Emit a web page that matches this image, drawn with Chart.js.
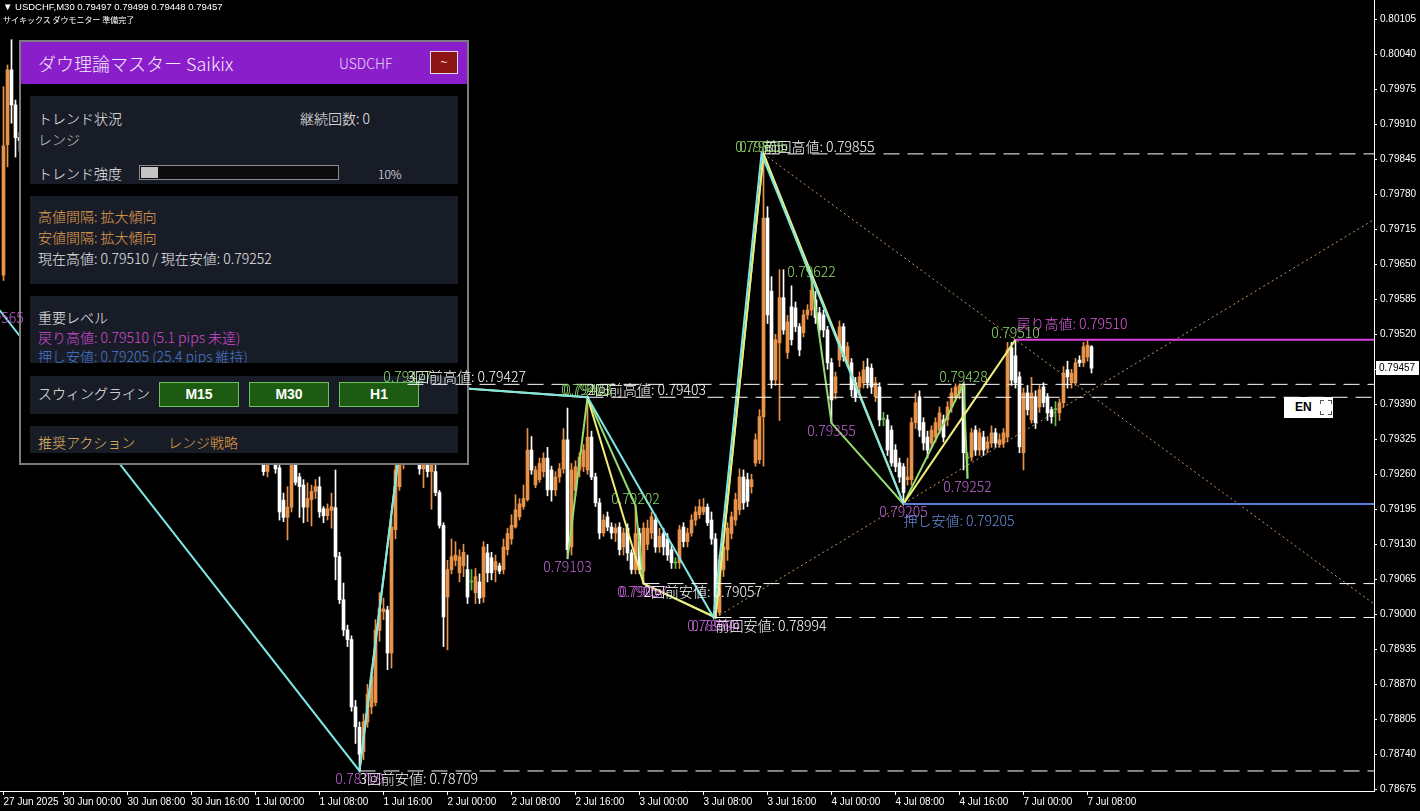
<!DOCTYPE html>
<html lang="ja">
<head>
<meta charset="utf-8">
<title>USDCHF,M30</title>
<script src="https://cdn.jsdelivr.net/npm/chart.js@4.4.1/dist/chart.umd.min.js"></script>
<style>
  html, body { margin: 0; padding: 0; background: #000; overflow: hidden; }
  #wrap { position: relative; width: 1420px; height: 811px; background: #000; }
  #wrap canvas { position: absolute; left: 0; top: 0; }
  #base { z-index: 1; }
  #over { z-index: 3; pointer-events: none; }
  .hdr { position: absolute; left: 3px; z-index: 4; color: #fff; white-space: nowrap; }
  #hdr1 { top: 0; font: 9.5px "Liberation Sans", Arial, sans-serif; line-height: 13px; }
  #hdr2 { top: 14px; font: 8px "Noto Sans CJK JP", sans-serif; line-height: 12px; }
  .panel { position: absolute; left: 19px; top: 40px; width: 450px; height: 425px; box-sizing: border-box;
           border: 2px solid #7c7c7c; background: #000; z-index: 2;
           font-family: "Noto Sans CJK JP", sans-serif; font-weight: 300; font-size: 14px; color: #f0f0f0; }
  .panel div { position: absolute; white-space: nowrap; }
  .ttl { left: 0; top: 0; width: 446px; height: 42px; background: #8B1ECB; }
  .box { left: 9px; width: 428px; background: #181C27; overflow: hidden; }
  .t { height: 20px; line-height: 20px; }
  .org { color: #E6A050; }
  .btn { top: 6px; width: 80px; height: 25px; box-sizing: border-box; background: #1E5B12; border: 1px solid #6DC15B;
         color: #fff; font: bold 14px "Liberation Sans", Arial, sans-serif; line-height: 23px; text-align: center; }
  #en { position: absolute; left: 1284px; top: 397px; width: 49px; height: 21px; background: #fff; z-index: 4; }
  #en span { position: absolute; left: 11px; top: 0; font: bold 12px "Liberation Sans", Arial, sans-serif; line-height: 21px; color: #000; }
  #en i { position: absolute; width: 3px; height: 3px; border-color: #555; border-style: solid; border-width: 0; }
</style>
</head>
<body>
<div id="wrap">
  <canvas id="base" width="1420" height="811"></canvas>

  <div class="panel">
    <div class="ttl">
      <div style="left:17px;top:9px;font-size:18px;line-height:24px;color:#f4eefa;">ダウ理論マスター Saikix</div>
      <div class="t" style="left:318px;top:11px;color:#e6d8f4;">USDCHF</div>
      <div style="left:409px;top:9px;width:28px;height:23px;box-sizing:border-box;background:#8E1515;border:1px solid #e0e0e0;color:#fff;text-align:center;line-height:19px;font-size:14px;">~</div>
    </div>
    <div class="box" style="top:54px;height:88px;">
      <div class="t" style="left:8px;top:12px;">トレンド状況</div>
      <div class="t" style="left:270px;top:12px;">継続回数: 0</div>
      <div class="t" style="left:8px;top:33px;color:#c8c8c8;">レンジ</div>
      <div class="t" style="left:8px;top:67px;">トレンド強度</div>
      <div style="left:109px;top:69px;width:200px;height:15px;box-sizing:border-box;border:1px solid #8c8c8c;background:#0c0c0c;">
        <div style="left:1px;top:1px;width:17px;height:11px;background:#c4c4c4;"></div>
      </div>
      <div class="t" style="left:348px;top:68px;font-size:12px;">10%</div>
    </div>
    <div class="box" style="top:154px;height:88px;">
      <div class="t org" style="left:8px;top:10px;">高値間隔: 拡大傾向</div>
      <div class="t org" style="left:8px;top:31px;">安値間隔: 拡大傾向</div>
      <div class="t" style="left:8px;top:52px;color:#e8e8e8;">現在高値: 0.79510 / 現在安値: 0.79252</div>
    </div>
    <div class="box" style="top:254px;height:67px;">
      <div class="t" style="left:8px;top:11px;">重要レベル</div>
      <div class="t" style="left:8px;top:31px;color:#D24BD2;">戻り高値: 0.79510 (5.1 pips 未達)</div>
      <div class="t" style="left:8px;top:50px;color:#4A7AD2;">押し安値: 0.79205 (25.4 pips 維持)</div>
    </div>
    <div class="box" style="top:334px;height:38px;">
      <div class="t" style="left:8px;top:7px;">スウィングライン</div>
      <div class="btn" style="left:129px;">M15</div>
      <div class="btn" style="left:219px;">M30</div>
      <div class="btn" style="left:309px;">H1</div>
    </div>
    <div class="box" style="top:384px;height:27px;">
      <div class="t" style="left:8px;top:6px;color:#EBBE64;">推奨アクション</div>
      <div class="t" style="left:138px;top:6px;color:#E1A046;">レンジ戦略</div>
    </div>
  </div>

  <canvas id="over" width="1420" height="811"></canvas>

  <div class="hdr" id="hdr1"></div>
  <div class="hdr" id="hdr2">サイキックス ダウモニター 準備完了</div>

  <div id="en"><span>EN</span>
    <i style="left:36px;top:3px;border-left-width:1px;border-top-width:1px;"></i>
    <i style="left:44px;top:3px;border-right-width:1px;border-top-width:1px;"></i>
    <i style="left:36px;top:14px;border-left-width:1px;border-bottom-width:1px;"></i>
    <i style="left:44px;top:14px;border-right-width:1px;border-bottom-width:1px;"></i>
  </div>
</div>

<script>
// prices in points (1 point = 0.00001), one entry per M30 bar, 27 Jun 16:30 .. 7 Jul 08:30
const PT = 1e-5;

const openPts = [
  79630, 79872, 80011, 79946, 79885, 79880, 79850, 79870, 79820, 79790,
  79810, 79760, 79740, 79765, 79720, 79700, 79720, 79690, 79650, 79670,
  79640, 79600, 79620, 79590, 79610, 79580, 79550, 79570, 79540, 79520,
  79545, 79510, 79490, 79505, 79470, 79480, 79450, 79430, 79455, 79420,
  79440, 79410, 79390, 79415, 79380, 79400, 79370, 79390, 79360, 79340,
  79365, 79350, 79330, 79355, 79340, 79320, 79345, 79330, 79310, 79335,
  79320, 79300, 79325, 79310, 79295, 79290, 79265, 79300, 79285, 79272,
  79212, 79180, 79199, 79285, 79255, 79240, 79199, 79213, 79228, 79237,
  79196, 79183, 79193, 79198, 79107, 79027, 78971, 78953, 78828, 78790,
  78745, 78800, 78828, 78836, 78970, 79005, 79008, 78928, 79157, 79237,
  79280, 79310, 79400, 79350, 79330, 79270, 79278, 79265, 79265, 79226,
  79165, 79032, 79083, 79100, 79077, 79090, 79083, 79060, 79040, 79060,
  79032, 79114, 79105, 79083, 79090, 79083, 79120, 79140, 79162, 79181,
  79200, 79213, 79305, 79240, 79250, 79265, 79290, 79268, 79231, 79255,
  79270, 79324, 79125, 79230, 79268, 79274, 79268, 79329, 79255, 79207,
  79151, 79181, 79162, 79151, 79162, 79125, 79160, 79114, 79083, 79150,
  79080, 79130, 79151, 79175, 79125, 79150, 79140, 79120, 79095, 79096,
  79162, 79135, 79151, 79175, 79185, 79190, 79199, 79175, 79140, 79003,
  79083, 79120, 79150, 79175, 79194, 79255, 79250, 79237, 79281, 79287,
  79367, 79736, 79600, 79435, 79504, 79588, 79486, 79571, 79569, 79534,
  79523, 79556, 79565, 79584, 79560, 79556, 79528, 79467, 79411, 79472,
  79534, 79467, 79467, 79430, 79422, 79430, 79459, 79457, 79404, 79422,
  79362, 79361, 79342, 79305, 79281, 79274, 79250, 79250, 79356, 79404,
  79356, 79329, 79318, 79329, 79342, 79361, 79361, 79385, 79404, 79411,
  79425, 79290, 79292, 79342, 79305, 79329, 79308, 79318, 79337, 79315,
  79318, 79329, 79495, 79480, 79441, 79300, 79411, 79361, 79404, 79385,
  79422, 79404, 79380, 79380, 79374, 79393, 79454, 79430, 79430, 79472,
  79467, 79478, 79497
];
const highPts = [
  79980, 80020, 80067, 79955, 79895, 79888, 79878, 79875, 79828, 79818,
  79815, 79768, 79773, 79770, 79728, 79728, 79725, 79697, 79678, 79675,
  79648, 79628, 79625, 79618, 79615, 79588, 79578, 79575, 79548, 79553,
  79550, 79518, 79513, 79510, 79488, 79485, 79458, 79463, 79460, 79448,
  79445, 79418, 79423, 79420, 79408, 79405, 79398, 79395, 79368, 79373,
  79370, 79358, 79363, 79360, 79348, 79353, 79350, 79338, 79343, 79340,
  79328, 79333, 79330, 79318, 79308, 79300, 79300, 79310, 79295, 79285,
  79225, 79237, 79295, 79300, 79262, 79250, 79244, 79240, 79250, 79255,
  79200, 79205, 79225, 79268, 79115, 79058, 78980, 78960, 78840, 78800,
  78815, 78870, 78900, 78990, 79040, 79030, 79015, 79180, 79278, 79320,
  79330, 79427, 79415, 79370, 79340, 79295, 79285, 79290, 79280, 79230,
  79170, 79100, 79140, 79135, 79120, 79130, 79110, 79083, 79085, 79075,
  79135, 79130, 79115, 79110, 79095, 79140, 79160, 79185, 79222, 79215,
  79240, 79345, 79330, 79275, 79290, 79300, 79310, 79275, 79265, 79280,
  79345, 79383, 79280, 79285, 79300, 79315, 79403, 79340, 79262, 79215,
  79185, 79190, 79170, 79168, 79170, 79160, 79168, 79120, 79202, 79160,
  79170, 79175, 79190, 79185, 79160, 79160, 79150, 79130, 79105, 79165,
  79170, 79160, 79185, 79200, 79213, 79215, 79205, 79190, 79150, 79110,
  79140, 79170, 79190, 79225, 79270, 79268, 79262, 79260, 79335, 79380,
  79857, 79757, 79627, 79520, 79640, 79640, 79555, 79610, 79580, 79540,
  79565, 79575, 79622, 79600, 79570, 79565, 79535, 79475, 79450, 79545,
  79540, 79505, 79475, 79440, 79450, 79470, 79475, 79465, 79440, 79430,
  79375, 79370, 79350, 79315, 79290, 79280, 79290, 79365, 79410, 79415,
  79365, 79340, 79350, 79365, 79385, 79370, 79395, 79420, 79428, 79428,
  79428, 79300, 79345, 79350, 79345, 79340, 79330, 79350, 79345, 79335,
  79345, 79505, 79505, 79510, 79450, 79420, 79425, 79440, 79415, 79425,
  79430, 79410, 79385, 79395, 79400, 79460, 79470, 79455, 79475, 79480,
  79505, 79510, 79499
];
const lowPts = [
  79620, 79831, 79912, 79849, 79860, 79840, 79842, 79812, 79782, 79784,
  79752, 79732, 79735, 79712, 79692, 79695, 79682, 79642, 79645, 79632,
  79592, 79595, 79582, 79585, 79572, 79542, 79545, 79532, 79512, 79515,
  79502, 79482, 79485, 79462, 79465, 79442, 79422, 79425, 79412, 79415,
  79402, 79382, 79385, 79372, 79375, 79362, 79365, 79352, 79332, 79335,
  79342, 79322, 79325, 79332, 79312, 79315, 79322, 79302, 79305, 79312,
  79292, 79295, 79302, 79290, 79288, 79258, 79255, 79280, 79262, 79175,
  79172, 79138, 79190, 79240, 79180, 79170, 79172, 79164, 79215, 79180,
  79170, 79175, 79160, 79064, 79020, 78960, 78940, 78820, 78760, 78709,
  78730, 78790, 78815, 78830, 78950, 78990, 78897, 78900, 79140, 79230,
  79270, 79290, 79340, 79300, 79260, 79235, 79255, 79195, 79220, 79160,
  78940, 78934, 79075, 79090, 79060, 79070, 79020, 79045, 79020, 79020,
  79022, 79060, 79064, 79060, 79075, 79075, 79110, 79130, 79160, 79175,
  79195, 79210, 79260, 79235, 79245, 79255, 79220, 79210, 79220, 79245,
  79262, 79103, 79110, 79220, 79255, 79265, 79260, 79250, 79200, 79140,
  79145, 79155, 79140, 79135, 79110, 79110, 79100, 79075, 79075, 79075,
  79057, 79120, 79140, 79115, 79115, 79110, 79100, 79085, 79085, 79085,
  79125, 79125, 79145, 79165, 79178, 79185, 79165, 79130, 78994, 78998,
  79070, 79100, 79140, 79165, 79185, 79195, 79200, 79225, 79275, 79280,
  79275, 79540, 79420, 79425, 79360, 79520, 79475, 79500, 79525, 79480,
  79515, 79548, 79555, 79540, 79520, 79515, 79455, 79355, 79400, 79460,
  79470, 79460, 79405, 79395, 79410, 79420, 79420, 79410, 79395, 79350,
  79350, 79295, 79275, 79265, 79245, 79205, 79240, 79240, 79345, 79330,
  79305, 79290, 79310, 79320, 79335, 79320, 79350, 79375, 79395, 79400,
  79268, 79252, 79285, 79295, 79295, 79295, 79300, 79310, 79310, 79310,
  79310, 79320, 79425, 79420, 79300, 79268, 79370, 79355, 79345, 79375,
  79385, 79360, 79355, 79350, 79360, 79385, 79420, 79420, 79425, 79460,
  79460, 79470, 79448
];
const closePts = [
  79870, 80011, 79946, 79885, 79880, 79850, 79870, 79820, 79790, 79810,
  79760, 79740, 79765, 79720, 79700, 79720, 79690, 79650, 79670, 79640,
  79600, 79620, 79590, 79610, 79580, 79550, 79570, 79540, 79520, 79545,
  79510, 79490, 79505, 79470, 79480, 79450, 79430, 79455, 79420, 79440,
  79410, 79390, 79415, 79380, 79400, 79370, 79390, 79360, 79340, 79365,
  79350, 79330, 79355, 79340, 79320, 79345, 79330, 79310, 79335, 79320,
  79300, 79325, 79310, 79295, 79300, 79265, 79285, 79285, 79270, 79190,
  79180, 79199, 79278, 79245, 79237, 79199, 79215, 79228, 79237, 79190,
  79183, 79196, 79200, 79107, 79027, 78971, 78953, 78828, 78791, 78740,
  78800, 78852, 78884, 78971, 79010, 79010, 78928, 79162, 79268, 79290,
  79310, 79400, 79350, 79330, 79270, 79285, 79265, 79280, 79226, 79165,
  78995, 79083, 79107, 79110, 79107, 79115, 79032, 79060, 79070, 79030,
  79125, 79077, 79077, 79098, 79080, 79125, 79150, 79165, 79194, 79205,
  79215, 79305, 79268, 79268, 79280, 79290, 79231, 79231, 79255, 79270,
  79324, 79120, 79268, 79274, 79292, 79305, 79329, 79255, 79207, 79151,
  79175, 79162, 79151, 79160, 79120, 79151, 79114, 79083, 79150, 79083,
  79160, 79160, 79181, 79125, 79145, 79125, 79110, 79096, 79095, 79157,
  79135, 79151, 79175, 79190, 79200, 79199, 79170, 79140, 79010, 79101,
  79125, 79160, 79181, 79213, 79255, 79207, 79210, 79250, 79324, 79367,
  79736, 79556, 79435, 79510, 79588, 79528, 79543, 79510, 79534, 79491,
  79556, 79565, 79602, 79551, 79528, 79528, 79467, 79398, 79441, 79534,
  79478, 79497, 79417, 79404, 79441, 79454, 79430, 79422, 79430, 79361,
  79362, 79305, 79281, 79274, 79255, 79226, 79255, 79356, 79393, 79342,
  79318, 79305, 79342, 79356, 79374, 79329, 79385, 79411, 79422, 79425,
  79300, 79290, 79337, 79305, 79337, 79305, 79320, 79337, 79318, 79324,
  79337, 79491, 79435, 79430, 79311, 79411, 79380, 79411, 79356, 79417,
  79393, 79374, 79367, 79380, 79393, 79448, 79441, 79448, 79467, 79467,
  79497, 79500, 79457
];

// time axis: bar index of each label
const xTickIdx = [0, 15, 31, 47, 63, 79, 95, 111, 127, 143, 159, 175, 191, 207, 223, 239, 255, 271];
const xTickLabels = ['27 Jun 2025', '30 Jun 00:00', '30 Jun 08:00', '30 Jun 16:00', '1 Jul 00:00', '1 Jul 08:00',
  '1 Jul 16:00', '2 Jul 00:00', '2 Jul 08:00', '2 Jul 16:00', '3 Jul 00:00', '3 Jul 08:00', '3 Jul 16:00',
  '4 Jul 00:00', '4 Jul 08:00', '4 Jul 16:00', '7 Jul 00:00', '7 Jul 08:00'];
const yTickPrices = [0.78675, 0.78740, 0.78805, 0.78870, 0.78935, 0.79000, 0.79065, 0.79130, 0.79195, 0.79260,
  0.79325, 0.79390, 0.79455, 0.79520, 0.79585, 0.79650, 0.79715, 0.79780, 0.79845, 0.79910, 0.79975,
  0.80040, 0.80105];
const priceTop = 0.801408, priceBottom = 0.786718;
const barFirst = -0.875, barLast = 342.625;

// swing lines per timeframe: [bar index, price pts]
const cyanSwing = [[-1, 79565], [89, 78709], [101, 79427], [146, 79403], [177.5, 78994], [189.5, 79855], [225, 79205]];
const yellowSwing = [[89, 78709], [101, 79427], [146, 79403], [160, 79057], [178, 78994], [190, 79855], [225, 79205], [253, 79510]];
const greenSwing = [[141, 79103], [146, 79403], [158, 79202], [160, 79057], [178, 78994], [190, 79855],
  [202, 79622], [207, 79355], [225, 79205], [240, 79428], [241, 79252]];
const highTrend = [[190, 79855], [253, 79510]];
const lowTrend = [[178, 78994], [225, 79205]];

// previous highs / lows
const levelNames = ['前回高値', '2回前高値', '3回前高値', '前回安値', '2回前安値', '3回前安値'];
const levelPrices = [79855, 79403, 79427, 78994, 79057, 78709];
const levelFrom = [190, 146, 101, 178, 160, 89];
const levelIsHigh = [true, true, true, false, false, false];

// swing point price tags
const highMarks = [[189, 79855], [190, 79855], [101, 79427], [145.5, 79403], [146, 79403], [158, 79202],
  [202, 79622], [240, 79428], [253, 79510]];
const lowMarks = [[-1, 79565], [89, 78709], [141, 79103], [159.5, 79057], [160, 79057], [177, 78994],
  [178, 78994], [207, 79355], [225, 79205], [241, 79252]];

const pullbackHigh = [253, 79510];  // 戻り高値
const pushLow = [225, 79205];       // 押し安値

const n = closePts.length;
const last = n - 1;
const fmt = p => (p * PT).toFixed(5);

document.getElementById('hdr1').textContent =
  '\u25BC USDCHF,M30  ' + [openPts[last], highPts[last], lowPts[last], closePts[last]].map(fmt).join(' ');

const BULL = '#E8924A', BEAR = '#FFFFFF', DOJI = '#5EC24A';
const candleColor = closePts.map((c, i) => c > openPts[i] ? BULL : c < openPts[i] ? BEAR : DOJI);
const bodies = closePts.map((c, i) => ({ x: i, y: [openPts[i] * PT, c * PT] }));
const wicks = closePts.map((c, i) => ({ x: i, y: [lowPts[i] * PT, highPts[i] * PT] }));

const pts = arr => arr.map(([i, p]) => ({ x: i, y: p * PT }));
const ray = ([[i0, p0], [i1, p1]]) => {
  const slope = (p1 - p0) / (i1 - i0);
  return [{ x: i0, y: p0 * PT }, { x: barLast, y: (p0 + slope * (barLast - i0)) * PT }];
};
const flat = (from, p) => [{ x: from, y: p * PT }, { x: barLast, y: p * PT }];

const lineDs = (data, color, width, order, dash) => ({
  type: 'line', data, borderColor: color, borderWidth: width, pointRadius: 0,
  tension: 0, fill: false, order, borderDash: dash || []
});

// lower layer: candles and swing lines (under the panel)
new Chart(document.getElementById('base'), {
  type: 'bar',
  data: {
    datasets: [
      lineDs(pts(cyanSwing), '#7EE6E6', 2, 1),
      lineDs(pts(yellowSwing), '#F0EC78', 2, 2),
      lineDs(pts(greenSwing), '#96DC6E', 2, 3),
      lineDs(ray(highTrend), 'rgba(225,165,105,0.9)', 1, 4, [2, 3]),
      lineDs(ray(lowTrend), 'rgba(225,165,105,0.9)', 1, 5, [2, 3]),
      { data: bodies, backgroundColor: candleColor, barThickness: 3, minBarLength: 1, grouped: false, order: 6 },
      { data: wicks, backgroundColor: candleColor, barThickness: 1, grouped: false, order: 7 }
    ]
  },
  options: {
    responsive: false, animation: false, devicePixelRatio: 1, events: [],
    layout: { padding: { left: 0, top: 0, right: 46, bottom: 20 }, autoPadding: false },
    scales: {
      x: { type: 'linear', min: barFirst, max: barLast, offset: false, display: false },
      y: { type: 'linear', min: priceBottom, max: priceTop, display: false }
    },
    plugins: { legend: { display: false }, tooltip: { enabled: false } }
  }
});

// text tags on swing points and levels (drawn above the panel)
const LABEL_FONT = '300 14px "Noto Sans CJK JP", sans-serif';
const tagPlugin = {
  id: 'swingTags',
  afterDatasetsDraw(chart) {
    const { ctx, scales: { x, y } } = chart;
    ctx.save();
    ctx.font = LABEL_FONT;
    ctx.textBaseline = 'alphabetic';

    ctx.textAlign = 'center';
    ctx.fillStyle = '#92DA72';
    highMarks.forEach(([i, p]) => ctx.fillText(fmt(p), x.getPixelForValue(i), y.getPixelForValue(p * PT) - 2));
    ctx.fillStyle = '#C264D6';
    lowMarks.forEach(([i, p]) => ctx.fillText(fmt(p), x.getPixelForValue(i), y.getPixelForValue(p * PT) + 13));

    ctx.textAlign = 'left';
    ctx.fillStyle = '#FFFFFF';
    levelNames.forEach((name, k) => {
      const py = y.getPixelForValue(levelPrices[k] * PT);
      ctx.fillText(name + ': ' + fmt(levelPrices[k]), x.getPixelForValue(levelFrom[k]),
        levelIsHigh[k] ? py - 2 : py + 13);
    });

    ctx.fillStyle = '#E05CE0';
    ctx.fillText('戻り高値: ' + fmt(pullbackHigh[1]), x.getPixelForValue(pullbackHigh[0]) + 1,
      y.getPixelForValue(pullbackHigh[1] * PT) - 11);
    ctx.fillStyle = '#6A8EE0';
    ctx.fillText('押し安値: ' + fmt(pushLow[1]), x.getPixelForValue(pushLow[0]),
      y.getPixelForValue(pushLow[1] * PT) + 22);
    ctx.restore();
  }
};

// current price box on the price scale
const priceTagPlugin = {
  id: 'priceTag',
  afterDraw(chart) {
    const { ctx, chartArea, scales: { y } } = chart;
    const py = Math.round(y.getPixelForValue(closePts[last] * PT));
    ctx.save();
    ctx.fillStyle = '#FFFFFF';
    ctx.fillRect(chartArea.right + 2, py - 7, 43, 14);
    ctx.fillStyle = '#000000';
    ctx.font = '10px "Liberation Sans", Arial, sans-serif';
    ctx.textAlign = 'left';
    ctx.textBaseline = 'middle';
    ctx.fillText(fmt(closePts[last]), chartArea.right + 5, py + 0.5);
    ctx.restore();
  }
};

const levelSets = levelPrices.map((p, k) =>
  lineDs(flat(levelFrom[k], p), '#FFFFFF', 1, 10 + k, [16, 8]));

// upper layer: level lines, tags and axes
new Chart(document.getElementById('over'), {
  type: 'line',
  data: {
    datasets: [
      lineDs(flat(pullbackHigh[0], pullbackHigh[1]), '#E040E0', 2, 1),
      lineDs(flat(pushLow[0], pushLow[1]), '#5A7FD8', 2, 2),
      ...levelSets
    ]
  },
  options: {
    responsive: false, animation: false, devicePixelRatio: 1, events: [],
    layout: { padding: 0, autoPadding: false },
    scales: {
      x: {
        type: 'linear', position: 'bottom', min: barFirst, max: barLast,
        afterBuildTicks: s => { s.ticks = xTickIdx.map(v => ({ value: v })); },
        afterFit: s => { s.height = 20; s.paddingLeft = 0; s.paddingRight = 0; },
        ticks: {
          autoSkip: false, maxRotation: 0, minRotation: 0, align: 'start', padding: 1, color: '#FFFFFF',
          font: { family: '"Liberation Sans", Arial, sans-serif', size: 10 },
          callback: (v, i) => xTickLabels[i]
        },
        grid: { drawOnChartArea: false, drawTicks: true, tickLength: 4, color: '#FFFFFF' },
        border: { display: true, color: '#FFFFFF', width: 1 }
      },
      y: {
        type: 'linear', position: 'right', min: priceBottom, max: priceTop,
        afterBuildTicks: s => { s.ticks = yTickPrices.map(v => ({ value: v })); },
        afterFit: s => { s.width = 46; s.paddingTop = 0; s.paddingBottom = 0; },
        ticks: {
          autoSkip: false, padding: 3, color: '#FFFFFF',
          font: { family: '"Liberation Sans", Arial, sans-serif', size: 10 },
          callback: v => v.toFixed(5)
        },
        grid: { drawOnChartArea: false, drawTicks: true, tickLength: 3, color: '#FFFFFF' },
        border: { display: true, color: '#FFFFFF', width: 1 }
      }
    },
    plugins: { legend: { display: false }, tooltip: { enabled: false } }
  },
  plugins: [tagPlugin, priceTagPlugin]
});
</script>
</body>
</html>
